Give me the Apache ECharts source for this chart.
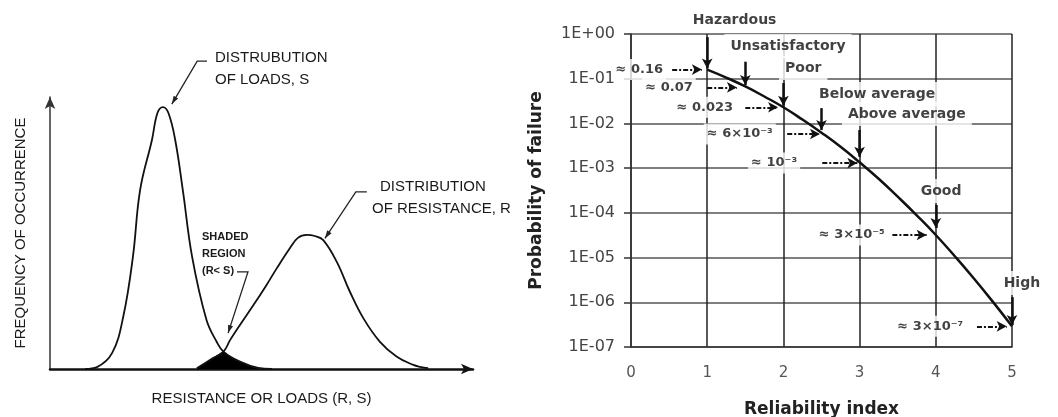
<!DOCTYPE html>
<html>
<head>
<meta charset="utf-8">
<script src="https://cdn.jsdelivr.net/npm/echarts@6/dist/echarts.min.js"></script>
<style>
  html, body { margin: 0; background: #fff; }
  #chart { width: 1058px; height: 417px; }
</style>
</head>
<body>
<div id="chart"></div>
<script>
// left panel: load / resistance distributions (arbitrary units, 0..100)
const loadX = [8.3, 11.1, 14.7, 17.3, 19.6, 21.3, 24.1, 25.4, 26.7, 28.0, 29.6, 31.4, 33.6, 37.0, 39.4, 41.0, 44.9, 49.2, 52.5];
const loadY = [0, 0.7, 5.9, 19.1, 41.2, 65.8, 84.2, 94.1, 96.3, 94.1, 84.2, 65.8, 41.2, 18.0, 10.0, 6.4, 2.7, 0.4, 0];
const resistX = [34.7, 37.8, 41.0, 42.6, 44.9, 48.1, 51.2, 53.6, 56.7, 58.6, 60.7, 62.6, 64.6, 67.8, 70.9, 74.1, 78.0, 82.0, 85.9, 87.5, 89.4];
const resistY = [0.3, 3.3, 6.4, 10.7, 16.2, 23.5, 30.9, 37.0, 44.4, 48.2, 49.3, 48.9, 47.4, 39.4, 28.4, 18.6, 10.0, 4.5, 1.5, 0.8, 0.3];
const overlapX = [34.7, 37.8, 41.0, 42.8, 44.9, 47.0, 49.2];
const overlapY = [0, 3.3, 6.4, 4.2, 2.7, 1.2, 0];

// right panel: probability of failure vs reliability index
const betaValues = [1, 1.25, 1.5, 1.75, 2, 2.25, 2.5, 2.75, 3, 3.25, 3.5, 3.75, 4, 4.25, 4.5, 4.75, 5];
const failureProb = [0.16, 0.106, 0.067, 0.040, 0.023, 0.0122, 0.0062, 0.003, 0.00135, 0.00058, 0.00023, 0.000088, 0.000032, 0.0000107, 0.0000034, 0.00000102, 0.00000029];
const yTickLabels = ['1E-07', '1E-06', '1E-05', '1E-04', '1E-03', '1E-02', '1E-01', '1E+00'];
const xTickLabels = ['0', '1', '2', '3', '4', '5'];
const levelNames = ['Hazardous', 'Unsatisfactory', 'Poor', 'Below average', 'Above average', 'Good', 'High'];
const levelValues = ['≈ 0.16', '≈ 0.07', '≈ 0.023', '≈ 6×10⁻³', '≈ 10⁻³', '≈ 3×10⁻⁵', '≈ 3×10⁻⁷'];

const chart = echarts.init(document.getElementById('chart'));

const pair = (xs, ys) => xs.map((x, i) => [x, ys[i]]);

// annotation geometry (data coordinates of the right grid)
const namePos = [[1.36, 2.06], [2.06, 0.54], [2.26, 0.174], [3.23, 0.0455], [3.62, 0.0162], [4.07, 3.1e-4], [5.13, 2.7e-6]];
const valuePos = [[0.46, 0.16], [0.85, 0.064], [1.38, 0.023], [1.90, 0.0058], [2.22, 1.3e-3], [3.37, 3.2e-5], [4.40, 2.9e-7]];
const downArrows = [[1, 0.85, 0.17], [1.5, 0.24, 0.072], [2, 0.08, 0.025], [2.5, 0.022, 0.0071], [3, 0.0071, 0.0018], [4, 1.5e-4, 4.6e-5], [5, 1.3e-6, 3.1e-7]];
const sideArrows = [[0.54, 0.93, 0.16], [1.0, 1.39, 0.064], [1.5, 1.93, 0.023], [2.05, 2.48, 0.0058], [2.51, 2.97, 1.3e-3], [3.43, 3.88, 3.2e-5], [4.54, 4.93, 2.9e-7]];
// leader lines of the left panel (data coordinates of the left grid)
const leaders = [
  [[37.1, 113.2], [34.8, 113.2], [28.8, 97.4]],
  [[74.9, 65.1], [72.3, 65.1], [65.0, 48.0]],
  [[44.2, 35.7], [46.8, 35.7], [42.1, 13.2]]
];

const solid = { color: '#111', width: 2.5, type: 'solid' };
const dashDot = { color: '#111', width: 2, type: [5, 2, 2, 2] };
const rightMarks = [
  ...downArrows.map(a => [{ coord: [a[0], a[1]], lineStyle: solid }, { coord: [a[0], a[2]], lineStyle: solid }]),
  ...sideArrows.map(a => [{ coord: [a[0], a[2]], lineStyle: dashDot }, { coord: [a[1], a[2]], lineStyle: dashDot }])
];

const narrow = '"Liberation Sans Narrow", "Liberation Sans", sans-serif';
const leftText = (id, text, x, y, font) => ({
  id, type: 'text', x, y, silent: true,
  style: { text, font: font || '15px ' + narrow, fill: '#1a1a1a', align: 'left', verticalAlign: 'middle' }
});

const noteLabel = {
  show: true, position: 'inside', fontFamily: 'DejaVu Sans', fontWeight: 'bold',
  color: '#111', backgroundColor: '#fff'
};

chart.setOption({
  animation: false,
  grid: [
    { left: 50, top: 97, width: 423, height: 272, outerBoundsMode: 'none' },
    { left: 631, top: 34, width: 381, height: 313, outerBoundsMode: 'none' }
  ],
  xAxis: [
    {
      gridIndex: 0, type: 'value', min: 0, max: 100,
      axisLine: { show: true, symbol: ['none', 'arrow'], symbolSize: [8, 12], lineStyle: { color: '#111', width: 2.5 } },
      axisTick: { show: false }, axisLabel: { show: false }, splitLine: { show: false },
      name: 'RESISTANCE OR LOADS (R, S)', nameLocation: 'middle', nameGap: 22,
      nameTextStyle: { fontFamily: narrow, fontSize: 15, color: '#1a1a1a' }
    },
    {
      gridIndex: 1, type: 'value', min: 0, max: 5, interval: 1,
      axisLine: { show: true, lineStyle: { color: '#333', width: 1.5 } },
      axisTick: { show: false },
      axisLabel: { margin: 19, fontSize: 15, color: '#555', fontFamily: 'DejaVu Sans', formatter: v => xTickLabels[Math.round(v)] },
      splitLine: { show: true, lineStyle: { color: '#222', width: 1.5 } },
      name: 'Reliability index', nameLocation: 'middle', nameGap: 54,
      nameTextStyle: { fontSize: 17, fontWeight: 'bold', color: '#222', fontFamily: 'DejaVu Sans' }
    }
  ],
  yAxis: [
    {
      gridIndex: 0, type: 'value', min: 0, max: 100,
      axisLine: { show: true, symbol: ['none', 'arrow'], symbolSize: [8, 12], lineStyle: { color: '#333', width: 1.5 } },
      axisTick: { show: false }, axisLabel: { show: false }, splitLine: { show: false },
      name: 'FREQUENCY OF OCCURRENCE', nameLocation: 'middle', nameGap: 22, nameRotate: 90,
      nameTextStyle: { fontFamily: '"Liberation Sans", sans-serif', fontSize: 15, color: '#1a1a1a' }
    },
    {
      gridIndex: 1, type: 'log', logBase: 10, min: 1e-7, max: 1, interval: 1,
      axisLine: { show: true, lineStyle: { color: '#333', width: 1.5 } },
      axisTick: { show: true, length: 7, lineStyle: { color: '#333', width: 1.5 } },
      minorTick: { show: false },
      axisLabel: {
        margin: 16, fontSize: 16, color: '#444', fontFamily: 'DejaVu Sans',
        formatter: v => yTickLabels[Math.round(Math.log10(v)) + 7]
      },
      splitLine: { show: true, lineStyle: { color: '#555', width: 1.5 } },
      name: 'Probability of failure', nameLocation: 'middle', nameGap: 86, nameRotate: 90,
      nameTextStyle: { fontSize: 17, fontWeight: 'bold', color: '#222', fontFamily: 'DejaVu Sans' }
    }
  ],
  graphic: [
    leftText('t1', 'DISTRUBUTION', 215, 58),
    leftText('t2', 'OF LOADS, S', 215, 80),
    leftText('t3', 'DISTRIBUTION', 380, 187),
    leftText('t4', 'OF RESISTANCE, R', 372, 209),
    leftText('t5', 'SHADED', 202, 237, 'bold 11px ' + narrow),
    leftText('t6', 'REGION', 202, 254, 'bold 11px ' + narrow),
    leftText('t7', '(R< S)', 202, 271, 'bold 11px ' + narrow)
  ],
  series: [
    {
      name: 'overlap', type: 'line', xAxisIndex: 0, yAxisIndex: 0,
      data: pair(overlapX, overlapY), smooth: false, symbol: 'none', silent: true,
      lineStyle: { color: '#000', width: 1 }, areaStyle: { color: '#000', opacity: 1 }, z: 2
    },
    {
      name: 'load', type: 'line', xAxisIndex: 0, yAxisIndex: 0,
      data: pair(loadX, loadY), smooth: 0.4, symbol: 'none', silent: true,
      lineStyle: { color: '#111', width: 1.8 }, z: 3
    },
    {
      name: 'resistance', type: 'line', xAxisIndex: 0, yAxisIndex: 0,
      data: pair(resistX, resistY), smooth: 0.4, symbol: 'none', silent: true,
      lineStyle: { color: '#111', width: 1.8 }, z: 3
    },
    {
      name: 'notes', type: 'scatter', xAxisIndex: 1, yAxisIndex: 1, clip: false,
      symbolSize: 1, itemStyle: { color: 'transparent' }, silent: true, z: 3,
      label: { ...noteLabel, formatter: '{b}' },
      data: [
        ...levelNames.map((n, i) => ({ name: n, value: namePos[i], label: { align: 'center', fontSize: 14, padding: [5, 6] } })),
        ...levelValues.map((n, i) => ({ name: n, value: valuePos[i], label: { align: 'right', fontSize: 13, padding: [4, 3] } }))
      ]
    },
    {
      name: 'Pf', type: 'line', xAxisIndex: 1, yAxisIndex: 1, clip: false,
      data: pair(betaValues, failureProb), smooth: true, symbol: 'none', silent: true,
      lineStyle: { color: '#111', width: 2.5 }, z: 4,
      markLine: {
        silent: true, symbol: ['none', 'arrow'], symbolSize: [8, 10], label: { show: false },
        data: rightMarks
      }
    }
  ]
});

// left-panel leader lines with arrow heads, placed through the left grid's scales
const leaderGraphics = [];
leaders.forEach((pts, k) => {
  const px = pts.map(p => chart.convertToPixel({ gridIndex: 0 }, p));
  leaderGraphics.push({ id: 'lead' + k, type: 'polyline', silent: true, z: 10, shape: { points: px }, style: { stroke: '#222', lineWidth: 1.3, fill: null } });
  const tip = px[2], from = px[1];
  const dx = tip[0] - from[0], dy = tip[1] - from[1];
  const len = Math.hypot(dx, dy), ux = dx / len, uy = dy / len;
  const bx = tip[0] - ux * 8, by = tip[1] - uy * 8;
  leaderGraphics.push({
    id: 'head' + k, type: 'polygon', silent: true, z: 10,
    shape: { points: [tip, [bx - uy * 2.6, by + ux * 2.6], [bx + uy * 2.6, by - ux * 2.6]] },
    style: { fill: '#222' }
  });
});
chart.setOption({ graphic: leaderGraphics });
</script>
</body>
</html>
